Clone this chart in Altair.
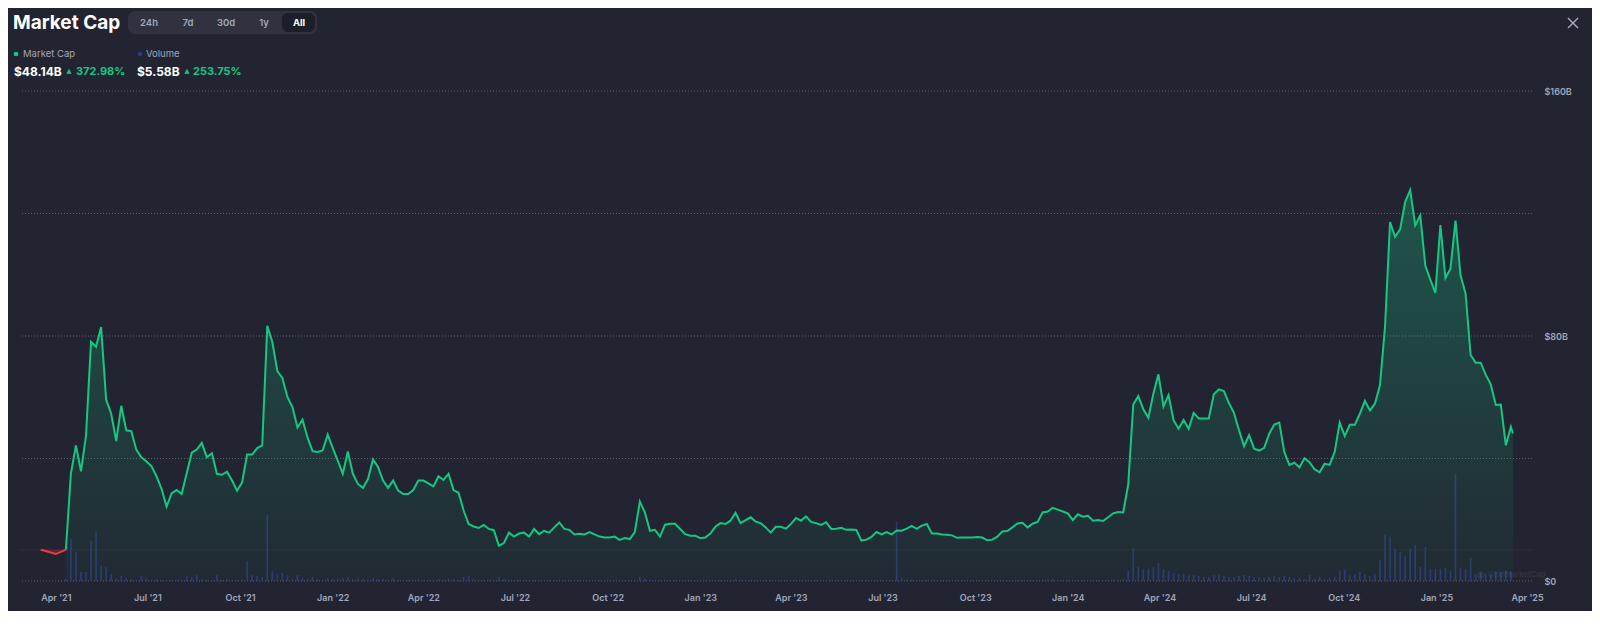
import altair as alt
import pandas as pd

# ---------------- data ----------------
SERIES_START = "2021-03-17"      # first sample, then one sample every 5 days
STEP = "5D"
LIVE_DATE = "2025-03-18"         # last (live) market-cap point
DOMAIN = ("2021-03-01T10:00:00", "2025-04-01T00:00:00")

# market cap in $B (one value per 5-day sample, last one = live value)
market_cap_b = [
    10.18, 9.8, 9.3, 8.8, 9.5, 10.2, 35.1, 44.3, 35.8, 47.5,
    78.1, 76.5, 82.9, 59.2, 54.6, 45.7, 57.2, 49.2, 48.9, 42.8,
    40.4, 39.0, 37.5, 34.2, 30.1, 24.3, 28.6, 29.7, 28.4, 35.2,
    41.9, 42.9, 45.1, 40.4, 41.7, 35.0, 34.7, 35.7, 32.8, 29.5,
    32.2, 41.3, 41.3, 43.4, 44.3, 83.3, 78.1, 68.5, 66.3, 60.1,
    56.8, 50.1, 52.7, 46.8, 42.4, 42.1, 42.6, 47.8, 43.5, 39.3,
    35.0, 42.3, 35.0, 31.7, 30.4, 33.3, 39.7, 37.2, 32.8, 30.4,
    32.8, 29.5, 28.4, 28.4, 29.7, 32.8, 32.8, 31.9, 30.9, 34.2,
    33.0, 35.0, 29.7, 28.8, 23.0, 18.6, 17.8, 17.3, 18.3, 17.0,
    16.6, 11.5, 12.4, 15.8, 14.5, 15.5, 15.8, 14.5, 17.0, 15.3,
    16.4, 15.8, 17.5, 19.1, 17.0, 16.7, 15.2, 15.4, 15.2, 16.0,
    15.2, 14.5, 14.2, 14.2, 14.5, 13.4, 14.0, 13.7, 16.0, 25.9,
    22.4, 16.4, 16.7, 14.5, 18.4, 18.7, 18.7, 17.0, 15.3, 14.8,
    14.8, 14.0, 14.2, 15.5, 17.7, 18.9, 18.6, 19.7, 22.3, 18.9,
    19.9, 20.8, 19.4, 18.9, 17.5, 15.8, 17.7, 17.7, 17.1, 18.6,
    20.6, 19.7, 21.1, 19.3, 18.9, 18.3, 19.2, 17.0, 17.1, 17.4,
    16.7, 16.8, 16.7, 13.2, 13.5, 14.4, 16.0, 15.2, 16.0, 15.2,
    16.5, 16.4, 17.1, 18.0, 17.0, 18.1, 18.6, 15.5, 15.5, 15.2,
    15.1, 14.9, 14.1, 14.2, 14.2, 14.2, 14.4, 14.2, 13.3, 13.5,
    14.5, 16.2, 16.3, 17.5, 18.8, 19.0, 17.5, 18.7, 19.3, 22.4,
    22.7, 23.9, 23.3, 22.7, 22.1, 19.9, 21.8, 21.0, 21.3, 19.7,
    19.9, 19.6, 20.8, 22.1, 22.5, 22.4, 31.5, 57.6, 60.4, 56.1,
    53.3, 61.2, 67.5, 57.0, 60.7, 52.5, 49.7, 52.6, 49.7, 54.9,
    53.1, 53.1, 53.1, 61.0, 62.6, 62.0, 58.1, 54.9, 49.2, 44.0,
    47.6, 43.2, 42.6, 43.5, 48.1, 51.1, 51.7, 42.1, 37.9, 38.6,
    37.1, 40.1, 38.8, 36.5, 35.5, 38.3, 37.9, 42.1, 51.7, 47.3,
    51.0, 51.0, 54.6, 58.8, 55.7, 57.9, 64.0, 83.0, 117.2, 112.4,
    114.8, 123.8, 127.6, 116.1, 119.4, 103.0, 98.4, 94.1, 116.2, 98.9,
    102.0, 117.7, 99.8, 93.8, 73.8, 71.3, 71.3, 67.4, 64.2, 57.5,
    57.6, 44.3, 50.3,
    48.14,
]

# volume in $B (one value per 5-day sample)
volume_b = [
    0, 0, 0, 0, 0, 1.2, 25.8, 17.8, 5.5, 5.5,
    24.6, 30.1, 9.2, 8.6, 4.3, 1.2, 3.1, 1.8, 1.2, 0.8,
    3.1, 1.8, 0.8, 1.2, 0.6, 0.6, 0.6, 0.6, 0.8, 3.1,
    2.5, 3.7, 1.2, 0.6, 0.6, 3.7, 0.6, 1.2, 0.6, 0.6,
    0.8, 12.3, 3.7, 3.1, 2.5, 40.6, 6.2, 4.3, 4.9, 3.7,
    1.2, 3.7, 1.8, 1.2, 2.5, 1.2, 0.8, 1.8, 1.2, 1.5,
    1.8, 2.5, 1.2, 1.5, 1.2, 0.8, 1.8, 1.2, 1.2, 0.8,
    1.5, 0.8, 0.8, 0.6, 0.8, 1.2, 0.8, 0.6, 0.8, 1.2,
    0.8, 1.5, 1.2, 0.8, 2.5, 3.1, 1.2, 0.8, 0.8, 0.6,
    0.8, 2.5, 1.2, 0.8, 0.6, 0.6, 0.6, 0.5, 0.6, 0.5,
    0.5, 0.6, 0.6, 0.8, 0.5, 0.5, 0.4, 0.5, 0.4, 0.5,
    0.4, 0.4, 0.4, 0.5, 0.4, 0.4, 0.5, 0.4, 0.6, 2.5,
    1.5, 0.8, 0.6, 0.5, 0.8, 0.6, 0.6, 0.5, 0.4, 0.4,
    0.4, 0.4, 0.4, 0.5, 0.6, 0.6, 0.5, 0.6, 1.2, 0.6,
    0.6, 0.6, 0.5, 0.5, 0.5, 0.5, 0.5, 0.4, 0.4, 0.5,
    0.6, 0.5, 0.6, 0.5, 0.5, 0.4, 0.5, 0.4, 0.4, 0.4,
    0.4, 0.4, 0.4, 0.6, 0.5, 0.4, 0.5, 0.4, 0.4, 0.4,
    36.3, 2.0, 1.0, 0.8, 0.6, 0.6, 0.6, 0.8, 0.5, 0.4,
    0.4, 0.4, 0.4, 0.4, 0.4, 0.4, 0.4, 0.4, 0.4, 0.4,
    0.4, 0.5, 0.5, 0.6, 0.6, 0.5, 0.5, 0.5, 0.5, 1.0,
    0.8, 1.2, 0.8, 0.6, 0.6, 0.6, 0.6, 0.5, 0.5, 0.5,
    0.5, 0.5, 0.6, 0.8, 0.8, 1.0, 6.2, 20.3, 8.6, 7.4,
    7.4, 8.6, 11.1, 7.4, 6.2, 4.9, 4.3, 4.3, 3.7, 3.7,
    3.1, 2.5, 2.5, 3.7, 3.7, 3.1, 2.5, 2.5, 3.1, 3.7,
    3.1, 2.5, 2.5, 1.8, 2.5, 3.1, 2.5, 3.1, 2.5, 1.8,
    1.8, 1.2, 3.7, 1.5, 2.5, 1.2, 1.8, 2.5, 6.2, 6.8,
    3.7, 4.3, 5.5, 4.3, 3.1, 4.3, 12.9, 28.3, 27.1, 19.7,
    17.8, 15.4, 19.7, 22.1, 8.6, 20.9, 7.4, 7.4, 7.4, 8.0,
    6.2, 65.2, 8.0, 7.4, 14.1, 4.3, 5.5, 4.3, 4.3, 6.2,
    5.5, 6.2, 5.58,
]

quarter_ticks = [
    "2021-04-01", "2021-07-01", "2021-10-01", "2022-01-01", "2022-04-01",
    "2022-07-01", "2022-10-01", "2023-01-01", "2023-04-01", "2023-07-01",
    "2023-10-01", "2024-01-01", "2024-04-01", "2024-07-01", "2024-10-01",
    "2025-01-01", "2025-04-01",
]
grid_values = [0, 40, 80, 120, 160]
label_values = [0, 80, 160]
MC_DOMAIN = [0, 160]
VOL_DOMAIN = [0, 300]

ranges = ["24h", "7d", "30d", "1y", "All"]
legend_names = ["Market Cap", "Volume"]
headline_values = ["$48.14B", "$5.58B"]
headline_changes = ["372.98%", "253.75%"]

# ---------------- styles ----------------
BG = "#222531"
GREEN = "#16c784"
RED = "#ea3943"
VOL_COLOR = "#2c3c78"
MUTED = "#a1a7bb"
GRID = "#5a5f72"
FONT = "Inter"

# ---------------- frames ----------------
sample_dates = pd.date_range(SERIES_START, periods=len(volume_b), freq=STEP)
date_str = list(sample_dates.strftime("%Y-%m-%d"))
mc_df = pd.DataFrame({"date": date_str + [LIVE_DATE], "mcap": market_cap_b})
vol_df = pd.DataFrame({"date": date_str, "vol": volume_b})

base_value = market_cap_b[0]
first_up = next(i for i, v in enumerate(market_cap_b) if i > 0 and v > base_value)
red_df = mc_df.iloc[: first_up + 1].assign(base=base_value)
green_df = mc_df.iloc[first_up:]


def dt(s):
    t = pd.Timestamp(s)
    return alt.DateTime(year=t.year, month=t.month, date=t.day,
                        hours=t.hour, minutes=t.minute, utc=True)


x_scale = alt.Scale(type="utc", domain=[dt(DOMAIN[0]), dt(DOMAIN[1])])
x_axis = alt.Axis(values=[dt(q) for q in quarter_ticks], format="%b '%y",
                  labelColor=MUTED, labelFont=FONT, labelFontSize=9,
                  labelFontWeight=600, labelPadding=12, ticks=False, tickSize=0,
                  domain=False, grid=False, labelFlush=False, labelOverlap=False,
                  title=None)
X = alt.X("date:T", scale=x_scale, axis=x_axis)
mc_scale = alt.Scale(domain=MC_DOMAIN, nice=False, zero=True)

grid = alt.Chart(pd.DataFrame({"g": grid_values})).mark_rule(
    color=GRID, strokeDash=[1, 2], strokeWidth=1
).encode(y=alt.Y("g:Q", scale=mc_scale, axis=None))

baseline = alt.Chart(pd.DataFrame({"b": [base_value]})).mark_rule(
    color=RED, opacity=0.13, strokeWidth=1
).encode(y=alt.Y("b:Q", scale=mc_scale, axis=None))

bars = alt.Chart(vol_df).mark_bar(size=1.6, color=VOL_COLOR, opacity=0.9).encode(
    x=X, y=alt.Y("vol:Q", scale=alt.Scale(domain=VOL_DOMAIN, nice=False), axis=None)
)

area = alt.Chart(green_df).mark_area(
    color=alt.Gradient(
        gradient="linear",
        stops=[alt.GradientStop(color="rgba(22,199,132,0.30)", offset=0),
               alt.GradientStop(color="rgba(22,199,132,0.03)", offset=1)],
        x1=1, x2=1, y1=0, y2=1),
).encode(x=X, y=alt.Y("mcap:Q", scale=mc_scale, axis=None))

red_area = alt.Chart(red_df).mark_area(color=RED, opacity=0.25).encode(
    x=X, y=alt.Y("mcap:Q", scale=mc_scale, axis=None), y2="base:Q"
)

y_axis = alt.Axis(values=label_values, orient="right", labelAlign="left",
                  labelExpr="datum.value == 0 ? '$0' : '$' + datum.value + 'B'",
                  labelColor=MUTED, labelFont=FONT, labelFontSize=9,
                  labelFontWeight=600, labelPadding=12, ticks=False, tickSize=0,
                  domain=False, grid=False, title=None)

green_line = alt.Chart(green_df).mark_line(color=GREEN, strokeWidth=2).encode(
    x=X, y=alt.Y("mcap:Q", scale=mc_scale, axis=y_axis)
)
red_line = alt.Chart(red_df).mark_line(color=RED, strokeWidth=2).encode(
    x=X, y=alt.Y("mcap:Q", scale=mc_scale, axis=None)
)

# ---------------- header (UI chrome) ----------------
one = alt.Data(values=[{"k": 0}])


def txt(s, x, y, size=10, color=MUTED, weight="normal", align="left", font=FONT, opacity=1):
    return alt.Chart(one).mark_text(
        text=s, align=align, baseline="middle", fontSize=size, font=font,
        fontWeight=weight, color=color, opacity=opacity
    ).encode(x=alt.value(x), y=alt.value(y))


def box(x, x2, y, y2, color, r):
    return alt.Chart(one).mark_rect(color=color, cornerRadius=r).encode(
        x=alt.value(x), x2=alt.value(x2), y=alt.value(y), y2=alt.value(y2))


def dot(x, y, color, size=22, opacity=1.0):
    return alt.Chart(one).mark_circle(size=size, color=color, opacity=opacity).encode(
        x=alt.value(x), y=alt.value(y))


def seg(x, x2, y, y2):
    return alt.Chart(one).mark_rule(color=MUTED, strokeWidth=1.5).encode(
        x=alt.value(x), x2=alt.value(x2), y=alt.value(y), y2=alt.value(y2))


header = [
    txt("Market Cap", -7, -68, size=19, color="#ffffff", weight="bold"),
    box(108, 297, -80, -57, "#30333f", 7),
    box(262, 295, -78, -59, "#1c1f2a", 6),
]
for label, cx in zip(ranges, [129, 168, 206, 244, 279]):
    last = label == ranges[-1]
    header.append(txt(label, cx, -68.5, size=9.5, align="center",
                      color="#ffffff" if last else MUTED,
                      weight="bold" if last else 600))
header += [
    dot(-4, -37, GREEN), txt(legend_names[0], 3, -37, size=9.5),
    dot(120, -37, VOL_COLOR), txt(legend_names[1], 126, -37, size=9.5),
    txt(headline_values[0], -6, -19, size=12, color="#ffffff", weight="bold"),
    txt("▲", 49, -20, size=6.5, color=GREEN, align="center", font="DejaVu Sans"),
    txt(headline_changes[0], 56, -19, size=11, color=GREEN, weight="bold"),
    txt(headline_values[1], 117, -19, size=12, color="#ffffff", weight="bold"),
    txt("▲", 167, -20, size=6.5, color=GREEN, align="center", font="DejaVu Sans"),
    txt(headline_changes[1], 173, -19, size=11, color=GREEN, weight="bold"),
    seg(1548, 1558, -73, -63), seg(1548, 1558, -63, -73),
    dot(1461, 484, "#ffffff", size=60, opacity=0.05),
    txt("CoinMarketCap", 1468, 484, size=7.5, color="#ffffff", weight="bold", opacity=0.06),
]

chart = alt.layer(
    grid, baseline, bars, area, red_area, green_line, red_line, *header
).resolve_scale(y="independent").properties(
    width=1512, height=490,
    padding={"left": 12, "top": 83, "right": 60, "bottom": 30},
    autosize=alt.AutoSizeParams(type="none"),
).configure(background=BG).configure_view(strokeWidth=0)

chart.save("out.html", embed_options={"renderer": "svg", "actions": False})
